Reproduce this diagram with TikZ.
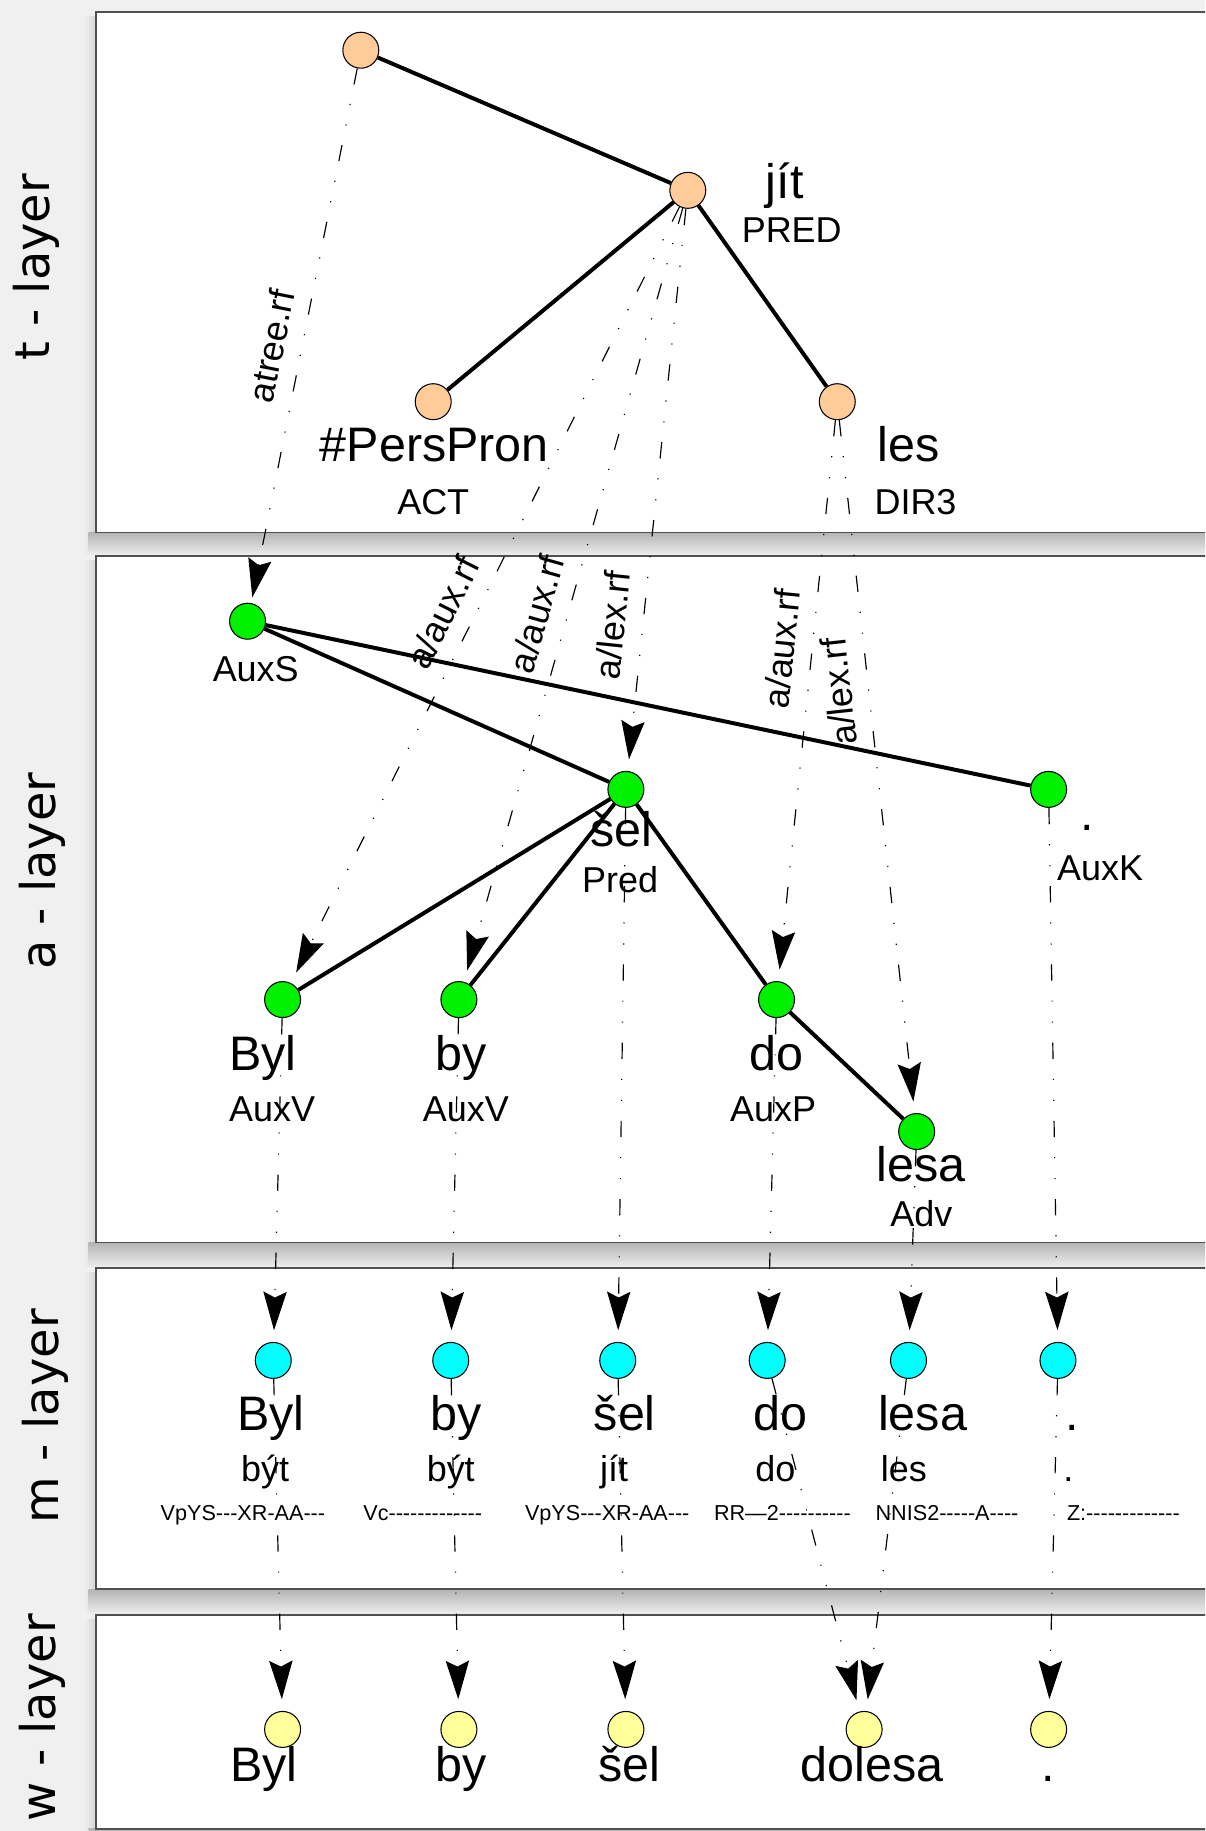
\documentclass[tikz,border=0pt]{standalone}
\usepackage{fontspec}
\setmainfont{Liberation Sans}
\newfontfamily\layerfont{DejaVu Sans}
\newfontfamily\tagfont[Ligatures=TeXOff]{Liberation Sans}
\usetikzlibrary{positioning,shapes,arrows.meta}
\definecolor{PageGray}{RGB}{240,240,240}
\definecolor{ShadowDark}{RGB}{180,180,180}
\definecolor{ShadowLeft}{RGB}{212,212,212}
\definecolor{PanelBorder}{RGB}{80,80,80}
\definecolor{TNodeOrange}{RGB}{255,204,153}
\definecolor{ANodeGreen}{RGB}{0,240,0}
\definecolor{MNodeCyan}{RGB}{0,255,255}
\definecolor{WNodeYellow}{RGB}{255,255,153}
\newcommand{\bigword}{\fontsize{20.75}{24}\selectfont}
\newcommand{\smallword}{\fontsize{15.4}{18}\selectfont}
\newcommand{\tagword}{\tagfont\fontsize{9.25}{11}\selectfont}
\newcommand{\rfword}{\fontsize{15.4}{18}\selectfont}
\tikzset{
  panel/.style={fill=white, draw=PanelBorder, line width=0.8pt},
  shadowbelow/.style={top color=ShadowDark, bottom color=PageGray},
  shadowleft/.style={left color=PageGray, right color=ShadowLeft},
  layerlabel/.style={rotate=90, inner sep=0pt, font=\layerfont\fontsize{20.5}{24}\selectfont},
  tok/.style={circle, draw, line width=0.45pt, minimum size=15.4pt, inner sep=0pt},
  tnode/.style={tok, fill=TNodeOrange},
  anode/.style={tok, fill=ANodeGreen},
  mnode/.style={tok, fill=MNodeCyan},
  wnode/.style={tok, fill=WNodeYellow},
  word/.style={anchor=base, inner sep=0pt, font=\bigword},
  func/.style={anchor=base, inner sep=0pt, font=\smallword},
  tagtext/.style={anchor=base, inner sep=0pt, font=\tagword},
  dep/.style={-, line width=1.7pt},
  ref/.style={-{Stealth[length=16.5pt, width=10pt, inset=2.5pt, color=black]}, line width=0.5pt,
    dash pattern=on 7pt off 8.5pt on 0.5pt off 8.5pt on 0.5pt off 8.5pt, shorten >=5pt},
  reflabel/.style={sloped, above, inner sep=7pt, font=\rfword},
}

\begin{document}
\begin{tikzpicture}[x=0.5pt, y=-0.5pt]
  \path[use as bounding box, fill=PageGray] (0,0) rectangle (1032,1568);
  \clip (0,0) rectangle (1032,1568);
  % panel shadows
  \path[shadowleft] (72,14) rectangle (82,474);
  \path[shadowleft] (72,480) rectangle (82,1084);
  \path[shadowleft] (72,1090) rectangle (82,1381);
  \path[shadowleft] (72,1387) rectangle (82,1568);
  \path[shadowbelow] (76,456) rectangle (1060,476);
  \path[shadowbelow] (76,1064) rectangle (1060,1086);
  \path[shadowbelow] (76,1361) rectangle (1060,1383);
  \path[shadowbelow] (76,1566) rectangle (1060,1580);
  \path[panel] (82,10) rectangle (1060,456);
  \path[panel] (82,476) rectangle (1060,1064);
  \path[panel] (82,1086) rectangle (1060,1361);
  \path[panel] (82,1383) rectangle (1060,1566);

  \node[layerlabel] (tlayer) at (31,229) {t - layer};
  \node[layerlabel] (alayer) at (36,746) {a - layer};
  \node[layerlabel] (mlayer) at (39,1213) {m - layer};
  \node[layerlabel] (wlayer) at (36,1471) {w - layer};

  % t-layer
  \node[tnode] (t0) at (309,43) {};
  \node[tnode] (t1) at (589,163) {};
  \draw[dep] (t0) -- (t1);
  \node[word] (t1w) at (672,170) {jít};
  \node[func] (t1f) at (678,208) {PRED};
  \node[tnode] (t2) at (371,344) {};
  \draw[dep] (t1) -- (t2);
  \node[word] (t2w) at (372,395) {\#PersPron};
  \node[func] (t2f) at (371,441) {ACT};
  \node[tnode] (t3) at (717,344) {};
  \draw[dep] (t1) -- (t3);
  \node[word] (t3w) at (778,395) {les};
  \node[func] (t3f) at (784,441) {DIR3};

  % a-layer
  \node[anode] (a0) at (212,532) {};
  \node[func] (a0f) at (219,584) {AuxS};
  \node[anode] (a1) at (536,676) {};
  \draw[dep] (a0) -- (a1);
  \node[word] (a1w) at (532,725) {šel};
  \node[func] (a1f) at (531,764) {Pred};
  \node[anode] (a2) at (898,676) {};
  \draw[dep] (a0) -- (a2);
  \node[word] (a2w) at (931,711) {.};
  \node[func] (a2f) at (942,754) {AuxK};
  \node[anode] (a3) at (242,856) {};
  \draw[dep] (a1) -- (a3);
  \node[word] (a3w) at (225,917) {Byl};
  \node[func] (a3f) at (233,960) {AuxV};
  \node[anode] (a4) at (393,856) {};
  \draw[dep] (a1) -- (a4);
  \node[word] (a4w) at (395,917) {by};
  \node[func] (a4f) at (399,960) {AuxV};
  \node[anode] (a5) at (665,856) {};
  \draw[dep] (a1) -- (a5);
  \node[word] (a5w) at (665,917) {do};
  \node[func] (a5f) at (662,960) {AuxP};
  \node[anode] (a6) at (785,969) {};
  \draw[dep] (a5) -- (a6);
  \node[word] (a6w) at (789,1012) {lesa};
  \node[func] (a6f) at (789,1050) {Adv};

  % m-layer
  \node[mnode] (m0) at (234,1165) {};
  \node[word] (m0w) at (232,1225) {Byl};
  \node[func] (m0l) at (227,1269) {být};
  \node[tagtext] (m0t) at (208,1302) {VpYS---XR-AA---};
  \node[mnode] (m1) at (386,1165) {};
  \node[word] (m1w) at (391,1225) {by};
  \node[func] (m1l) at (386,1269) {být};
  \node[tagtext] (m1t) at (362,1302) {Vc-------------};
  \node[mnode] (m2) at (529,1165) {};
  \node[word] (m2w) at (535,1225) {šel};
  \node[func] (m2l) at (526,1269) {jít};
  \node[tagtext] (m2t) at (520,1302) {VpYS---XR-AA---};
  \node[mnode] (m3) at (657,1165) {};
  \node[word] (m3w) at (668,1225) {do};
  \node[func] (m3l) at (664,1269) {do};
  \node[tagtext] (m3t) at (670,1302) {RR—2----------};
  \node[mnode] (m4) at (778,1165) {};
  \node[word] (m4w) at (790,1225) {lesa};
  \node[func] (m4l) at (774,1269) {les};
  \node[tagtext] (m4t) at (811,1302) {NNIS2-----A----};
  \node[mnode] (m5) at (906,1165) {};
  \node[word] (m5w) at (918,1225) {.};
  \node[func] (m5l) at (915,1269) {.};
  \node[tagtext] (m5t) at (962,1302) {Z:-------------};

  % w-layer
  \node[wnode] (w0) at (242,1481) {};
  \node[word] (w0w) at (226,1526) {Byl};
  \node[wnode] (w1) at (393,1481) {};
  \node[word] (w1w) at (395,1526) {by};
  \node[wnode] (w2) at (536,1481) {};
  \node[word] (w2w) at (539,1526) {šel};
  \node[wnode] (w3) at (740,1481) {};
  \node[word] (w3w) at (747,1526) {dolesa};
  \node[wnode] (w4) at (898,1481) {};
  \node[word] (w4w) at (898,1526) {.};

  % references between layers
  \draw[ref, shorten >=2.5pt] (t0) -- node[reflabel, pos=0.53] (rf0) {atree.rf} (a0);
  \draw[ref] (t1) -- node[reflabel, pos=0.54] (rf1) {a/aux.rf} (a3);
  \draw[ref] (t1) -- node[reflabel, pos=0.535] (rf2) {a/aux.rf} (a4);
  \draw[ref] (t1) -- node[reflabel, pos=0.746] (rf3) {a/lex.rf} (a1);
  \draw[ref] (t3) -- node[reflabel, pos=0.413] (rf4) {a/aux.rf} (a5);
  \draw[ref] (t3) -- node[reflabel, pos=0.387, rotate=180] (rf5) {a/lex.rf} (a6);

  \draw[ref] (a3) -- (m0);
  \draw[ref] (a4) -- (m1);
  \draw[ref] (a1) -- (m2);
  \draw[ref] (a5) -- (m3);
  \draw[ref] (a6) -- (m4);
  \draw[ref] (a2) -- (m5);

  \draw[ref] (m0) -- (w0);
  \draw[ref] (m1) -- (w1);
  \draw[ref] (m2) -- (w2);
  \draw[ref] (m3) -- (w3);
  \draw[ref] (m4) -- (w3);
  \draw[ref] (m5) -- (w4);
\end{tikzpicture}
\end{document}
